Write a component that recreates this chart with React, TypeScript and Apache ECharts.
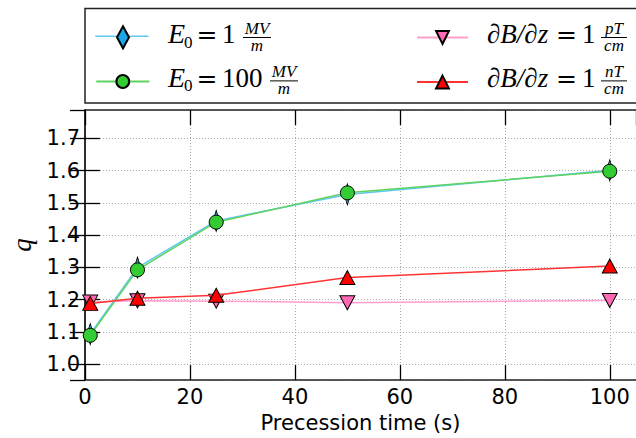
import React, { useEffect, useRef } from 'react';
import * as echarts from 'echarts';

const precessionTimes = [1, 10, 25, 50, 100];
const qE1 = [1.093, 1.299, 1.444, 1.526, 1.601];
const qE100 = [1.089, 1.292, 1.44, 1.531, 1.598];
const qPT = [1.192, 1.196, 1.195, 1.19, 1.197];
const qNT = [1.188, 1.204, 1.213, 1.268, 1.304];
const yTickValues = [1.0, 1.1, 1.2, 1.3, 1.4, 1.5, 1.6, 1.7];
const xTickValues = [0, 20, 40, 60, 80, 100];

const pairs = (ys: number[]) => precessionTimes.map((x, i) => [x, ys[i]]);

const SERIF = '"Liberation Serif", "DejaVu Serif", serif';
const DSERIF = '"DejaVu Serif", serif';
const SANS = '"DejaVu Sans", sans-serif';

function txt(text: string, x: number, y: number, size: number, italic: boolean, align: string = 'left', family: string = SERIF) {
  return {
    type: 'text',
    x,
    y,
    z: 20,
    style: {
      text,
      fontFamily: family,
      fontSize: size,
      fontStyle: italic ? 'italic' : 'normal',
      fill: '#000',
      textAlign: align,
      textVerticalAlign: 'middle',
    },
  };
}

function bar(x1: number, x2: number, y: number) {
  return {
    type: 'line',
    z: 20,
    shape: { x1, y1: y, x2, y2: y },
    style: { stroke: '#000', lineWidth: 1 },
  };
}

function fraction(num: string, den: string, cx: number, dy: number, halfW: number) {
  return [
    txt(num, cx, 28 + dy, 17, true, 'center'),
    bar(cx - halfW, cx + halfW, 37.5 + dy),
    txt(den, cx, 45.2 + dy, 17, true, 'center'),
  ];
}

function legendTexts() {
  const els: any[] = [];
  const rows = [0, 43.4];
  rows.forEach((dy, r) => {
    els.push(txt('E', 168, 33.9 + dy, 28, true));
    els.push(txt('0', 184, 42.3 + dy, 17, false));
    els.push(txt('=', 196.5, 34.8 + dy, 25, false, 'left', DSERIF));
    els.push(txt(r === 0 ? '1' : '100', 222, 34.2 + dy, 27, false));
    els.push(...fraction('MV', 'm', r === 0 ? 257 : 284, dy, 14));
  });
  rows.forEach((dy, r) => {
    els.push(txt('\u2202B/\u2202z', 487, 34.2 + dy, 27, true));
    els.push(txt('=', 556, 34.8 + dy, 25, false, 'left', DSERIF));
    els.push(txt('1', 582, 34.2 + dy, 27, false));
    els.push(...fraction(r === 0 ? 'pT' : 'nT', 'cm', 614, dy, 13));
  });
  return els;
}

const tickStyle = { inside: true, length: 15, lineStyle: { color: '#000', width: 1.3 } };
const axisLineStyle = { show: true, lineStyle: { color: '#222', width: 1.5 } };

const isTick = (v: number, list: number[]) => list.some((t) => Math.abs(t - v) < 1e-6);

export default function App() {
  const ref = useRef<HTMLDivElement>(null);
  useEffect(() => {
    if (!ref.current) return;
    const chart = echarts.init(ref.current, undefined, { renderer: 'svg' });
    const diamond = 'path://M6,0 L12,11 L6,22 L0,11 Z';
    const lineE1 = '#5ec8f2';
    const mkLegend = (data: any, left: number, cy: number, w: number, h: number) => ({
      data: [data],
      left,
      top: cy - h / 2,
      orient: 'vertical',
      padding: 0,
      itemWidth: w,
      itemHeight: h,
      itemGap: 0,
      selectedMode: false,
      formatter: () => '',
      symbolKeepAspect: true,
      z: 5,
    });
    chart.setOption({
      animation: false,
      backgroundColor: '#fff',
      grid: { left: 85, top: 110, right: -4, bottom: 52, containLabel: false },
      legend: [
        mkLegend({ name: 'E1', icon: diamond }, 116, 36.3, 12, 22),
        mkLegend('E100', 95.3, 81.5, 53, 16),
        mkLegend('pT', 416, 37.5, 51, 16),
        mkLegend('nT', 416, 82, 51, 16),
      ],
      xAxis: [
        {
          type: 'value',
          min: 0,
          max: 105,
          interval: 20,
          position: 'bottom',
          axisLine: axisLineStyle,
          axisTick: tickStyle,
          axisLabel: {
            margin: 6,
            fontFamily: SANS,
            fontSize: 21,
            color: '#000',
            showMaxLabel: false,
            formatter: (v: number) => (isTick(v, xTickValues) ? String(v) : ''),
          },
          splitLine: { show: true, lineStyle: { color: '#aaaaaa', width: 1, type: [1, 2] } },
          name: 'Precession time (s)',
          nameLocation: 'middle',
          nameGap: 27,
          nameTextStyle: { fontFamily: SANS, fontSize: 21, color: '#000', verticalAlign: 'top' },
        },
        {
          type: 'value',
          min: 0,
          max: 105,
          interval: 20,
          position: 'top',
          axisLine: axisLineStyle,
          axisTick: tickStyle,
          axisLabel: { show: false },
          splitLine: { show: false },
        },
      ],
      yAxis: [
        {
          type: 'value',
          min: 0.95,
          max: 1.788,
          splitNumber: 8,
          position: 'left',
          axisLine: axisLineStyle,
          axisTick: tickStyle,
          axisLabel: {
            margin: 5,
            fontFamily: SANS,
            fontSize: 21,
            color: '#000',
            showMinLabel: false,
            showMaxLabel: false,
            formatter: (v: number) => (isTick(v, yTickValues) ? v.toFixed(1) : ''),
          },
          splitLine: { show: true, lineStyle: { color: '#aaaaaa', width: 1, type: [1, 2] } },
          name: 'q',
          nameLocation: 'middle',
          nameRotate: 90,
          nameGap: 50,
          nameTextStyle: { fontFamily: SERIF, fontStyle: 'italic', fontSize: 27, color: '#000' },
        },
        {
          type: 'value',
          min: 0.95,
          max: 1.788,
          splitNumber: 8,
          position: 'right',
          axisLine: axisLineStyle,
          axisTick: tickStyle,
          axisLabel: { show: false },
          splitLine: { show: false },
        },
      ],
      graphic: [
        {
          type: 'rect',
          z: 1,
          shape: { x: 85, y: 8.5, width: 560, height: 94.5 },
          style: { fill: '#fff', stroke: '#222', lineWidth: 1.5 },
        },
        {
          type: 'line',
          z: 2,
          shape: { x1: 95.3, y1: 36.3, x2: 148.4, y2: 36.3 },
          style: { stroke: lineE1, lineWidth: 1.5 },
        },
        ...legendTexts(),
      ],
      series: [
        {
          name: 'E1',
          type: 'line',
          data: pairs(qE1),
          symbol: diamond,
          symbolSize: [12, 21],
          symbolKeepAspect: true,
          lineStyle: { color: lineE1, width: 1.5 },
          itemStyle: { color: '#1aa6e8', borderColor: '#000', borderWidth: 1 },
          z: 2,
        },
        {
          name: 'E100',
          type: 'line',
          data: pairs(qE100),
          symbol: 'circle',
          symbolSize: 14,
          lineStyle: { color: '#5fd35f', width: 1.5 },
          itemStyle: { color: '#33cc33', borderColor: '#000', borderWidth: 1 },
          z: 3,
        },
        {
          name: 'pT',
          type: 'line',
          data: pairs(qPT),
          symbol: 'triangle',
          symbolRotate: 180,
          symbolSize: [15, 14],
          lineStyle: { color: '#ff9fcf', width: 1.5 },
          itemStyle: { color: '#ff69b4', borderColor: '#000', borderWidth: 1 },
          z: 4,
        },
        {
          name: 'nT',
          type: 'line',
          data: pairs(qNT),
          symbol: 'triangle',
          symbolSize: [15, 14],
          lineStyle: { color: '#ff3333', width: 1.5 },
          itemStyle: { color: '#ff0000', borderColor: '#000', borderWidth: 1 },
          z: 5,
        },
      ],
    });
    return () => chart.dispose();
  }, []);
  return <div ref={ref} style={{ width: 636, height: 438, position: 'absolute', left: 0, top: 0 }} />;
}
